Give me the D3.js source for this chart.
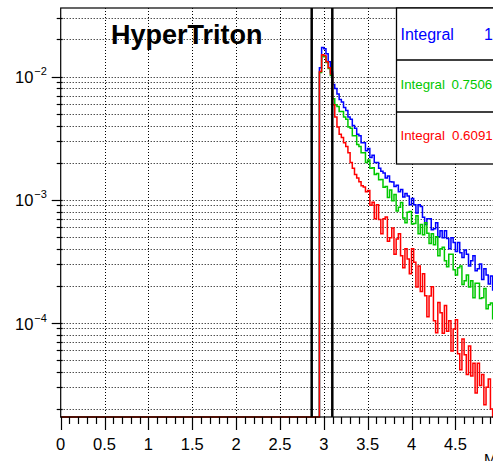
<!DOCTYPE html>
<html>
<head>
<meta charset="utf-8">
<script src="https://cdn.jsdelivr.net/npm/d3@7"></script>
<style>
  body { margin: 0; background: #fff; }
  svg { display: block; font-family: "Liberation Sans", Arial, sans-serif; }
</style>
</head>
<body>
<script>
// Canvas and frame
const w = 493;
const h = 461;
const frame = { left: 60.7, right: 499.2, top: 8, bottom: 417 };

// Histogram binning (bins start where the signal turns on)
const binLow = 2.95;
const binWidth = 0.025;

// Bin contents
const blue = [
  0.0118, 0.0172, 0.0168, 0.0153, 0.0132, 0.0109, 0.0086, 0.0080,
  0.0072, 0.0065, 0.0062, 0.0056, 0.0053, 0.0047, 0.0045, 0.0040,
  0.0038, 0.0034, 0.0033, 0.0029, 0.0029, 0.0025, 0.0026, 0.0022,
  0.0023, 0.0020, 0.0020, 0.0018, 0.0017, 0.00165, 0.00150, 0.00156,
  0.00140, 0.00139, 0.00128, 0.00131, 0.00116, 0.00121, 0.00105, 0.00112,
  0.00107, 0.00091, 0.00102, 0.00091, 0.00078, 0.00091, 0.00088, 0.00072,
  0.00063, 0.00070, 0.00070, 0.00057, 0.00058, 0.00065, 0.00050, 0.00056,
  0.00049, 0.00056, 0.000485, 0.00040, 0.00049, 0.00045, 0.00038, 0.00045,
  0.00037, 0.00034, 0.00039, 0.00036, 0.00029, 0.00032, 0.00035, 0.000265,
  0.000275, 0.00030, 0.000225, 0.000275, 0.000245, 0.000207, 0.00024, 0.000185,
  0.000195, 0.00020
];
const green = [
  0.0108, 0.0147, 0.0145, 0.0130, 0.0116, 0.0102, 0.0066, 0.0059,
  0.0057, 0.0052, 0.0052, 0.0047, 0.0045, 0.0039, 0.0038, 0.0033,
  0.0033, 0.0028, 0.0027, 0.0024, 0.0024, 0.0020, 0.0021, 0.0018,
  0.00182, 0.00160, 0.00163, 0.00145, 0.00146, 0.00126, 0.00128, 0.00104,
  0.00120, 0.00098, 0.00110, 0.00081, 0.00087, 0.00095, 0.00071, 0.00065,
  0.00079, 0.00080, 0.000635, 0.00064, 0.00074, 0.00053, 0.00063, 0.00052,
  0.00065, 0.000535, 0.00044, 0.00053, 0.00043, 0.00050, 0.00035, 0.00040,
  0.00041, 0.00032, 0.000285, 0.00036, 0.00036, 0.00027, 0.000245, 0.00028,
  0.00029, 0.000205, 0.00022, 0.000245, 0.000195, 0.00022, 0.00016, 0.00021,
  0.00021, 0.000158, 0.00016, 0.00019, 0.00013, 0.00014, 0.000145, 0.000108,
  0.000126, 0.00011
];
const red = [
  0.0110, 0.0150, 0.0148, 0.0132, 0.0118, 0.0105, 0.0059, 0.0047,
  0.0039, 0.0034, 0.0032, 0.0029, 0.0027, 0.0024, 0.0020, 0.0018,
  0.0016, 0.0015, 0.0014, 0.0013, 0.00127, 0.00116, 0.00119, 0.00090,
  0.000955, 0.00070, 0.00091, 0.00069, 0.00053, 0.00070, 0.000725, 0.00046,
  0.00049, 0.00059, 0.00036, 0.00048, 0.00053, 0.00035, 0.00028, 0.00040,
  0.00033, 0.00025, 0.00040, 0.00031, 0.000195, 0.00029, 0.00018, 0.00025,
  0.000166, 0.000112, 0.000165, 0.000196, 0.000104, 0.000083, 0.000146, 0.000121,
  0.0000825, 0.000138, 0.0000855, 0.000104, 0.000059, 0.000089, 0.000106, 0.000056,
  0.0000416, 0.000074, 0.000055, 0.000038, 0.000065, 0.000037, 0.000047, 0.000027,
  0.000047, 0.000031, 0.000038, 0.0000216, 0.000030, 0.000035, 0.000020, 0.000014,
  0.000025, 0.000018
];

// Legend entries
const legendLabels = ["Integral", "Integral", "Integral"];
const legendValues = ["1", "0.7506", "0.6091"];
const seriesColors = ["#0000ff", "#00c800", "#ff0000"];

// Axis ticks (5 sits on the frame edge, outside the window, so unlabelled)
const xTicks = [0, 0.5, 1, 1.5, 2, 2.5, 3, 3.5, 4, 4.5];
const yDecades = [-2, -3, -4];

// Selection window lines
const cutLines = [2.862, 3.097];

const x = d3.scaleLinear().domain([0, 5]).range([frame.left, frame.right]);
const y = d3.scaleLog().domain([1.72e-5, 0.036]).range([frame.bottom, frame.top]);

const svg = d3.select("body").append("svg").attr("width", w).attr("height", h);

// Grid: dotted at every log tick and every labelled x tick
const yGrid = [];
for (let e = -5; e <= -2; e++) {
  for (let m = 1; m <= 9; m++) {
    const v = m * Math.pow(10, e);
    if (v >= y.domain()[0] && v <= y.domain()[1]) yGrid.push({ v: v, major: m === 1 });
  }
}

svg.selectAll("line.ygrid")
  .data(yGrid)
  .enter()
  .append("line")
  .attr("x1", frame.left)
  .attr("x2", frame.right)
  .attr("y1", d => Math.round(y(d.v)) + 0.5)
  .attr("y2", d => Math.round(y(d.v)) + 0.5)
  .attr("stroke", "#000")
  .attr("stroke-width", 1)
  .attr("stroke-dasharray", "1,2");

svg.selectAll("line.xgrid")
  .data(xTicks.filter(d => d > 0))
  .enter()
  .append("line")
  .attr("x1", d => Math.round(x(d)) + 0.5)
  .attr("x2", d => Math.round(x(d)) + 0.5)
  .attr("y1", frame.top)
  .attr("y2", frame.bottom)
  .attr("stroke", "#000")
  .attr("stroke-width", 1)
  .attr("stroke-dasharray", "1,2");

// Histogram outlines: empty bins sit on the frame bottom
function histPoints(vals) {
  const lo = y.domain()[0];
  const pts = [[0, lo], [binLow, lo]];
  vals.forEach(function (v, i) {
    const a = binLow + i * binWidth;
    const vv = Math.max(v, lo);
    pts.push([a, vv]);
    pts.push([a + binWidth, vv]);
  });
  return pts;
}

const line = d3.line().x(d => x(d[0])).y(d => y(d[1]));

[blue, green, red].forEach(function (s, i) {
  svg.append("path")
    .attr("d", line(histPoints(s)))
    .attr("fill", "none")
    .attr("stroke", seriesColors[i])
    .attr("stroke-width", 1.5);
});

// Vertical cut lines
svg.selectAll("line.cut")
  .data(cutLines)
  .enter()
  .append("line")
  .attr("x1", d => x(d))
  .attr("x2", d => x(d))
  .attr("y1", frame.top)
  .attr("y2", frame.bottom)
  .attr("stroke", "#000")
  .attr("stroke-width", 2.5);

// Frame
svg.append("rect")
  .attr("x", frame.left)
  .attr("y", frame.top)
  .attr("width", frame.right - frame.left)
  .attr("height", frame.bottom - frame.top)
  .attr("fill", "none")
  .attr("stroke", "#000")
  .attr("stroke-width", 1.2);

// Y ticks
svg.selectAll("line.ytick")
  .data(yGrid)
  .enter()
  .append("line")
  .attr("x1", d => frame.left - (d.major ? 9 : 4))
  .attr("x2", frame.left + 2)
  .attr("y1", d => Math.round(y(d.v)) + 0.5)
  .attr("y2", d => Math.round(y(d.v)) + 0.5)
  .attr("stroke", "#000")
  .attr("stroke-width", 1.2);

const yLab = svg.selectAll("text.ylab")
  .data(yDecades)
  .enter()
  .append("text")
  .attr("x", 15)
  .attr("y", d => y(Math.pow(10, d)) + 6.8)
  .attr("font-size", 16.5)
  .attr("fill", "#000");
yLab.append("tspan").text("10");
yLab.append("tspan")
  .attr("dy", -8)
  .attr("dx", 1)
  .attr("font-size", 11)
  .text(d => "\u2212" + (-d));

// X ticks: major every 0.5, minor every 0.1
const xMinor = d3.range(0, 51).map(i => i / 10);
svg.selectAll("line.xtick")
  .data(xMinor)
  .enter()
  .append("line")
  .attr("x1", d => Math.round(x(d)) + 0.5)
  .attr("x2", d => Math.round(x(d)) + 0.5)
  .attr("y1", frame.bottom)
  .attr("y2", (d, i) => frame.bottom + (i % 5 === 0 ? 13 : 7))
  .attr("stroke", "#000")
  .attr("stroke-width", 1.2);

svg.selectAll("text.xlab")
  .data(xTicks)
  .enter()
  .append("text")
  .attr("x", d => x(d))
  .attr("y", 449.5)
  .attr("text-anchor", "middle")
  .attr("font-size", 16.5)
  .text(d => d);

// Axis title, mostly outside the window
svg.append("text")
  .attr("x", 484)
  .attr("y", 464)
  .attr("font-size", 15)
  .text("M");

// Title
svg.append("text")
  .attr("x", 111)
  .attr("y", 43.5)
  .attr("font-size", 27)
  .attr("font-weight", "bold")
  .text("HyperTriton");

// Legend box with three rows
const legX = 396.5;
const rowH = 52;
svg.append("rect")
  .attr("x", legX)
  .attr("y", frame.top)
  .attr("width", 130)
  .attr("height", rowH * 3)
  .attr("fill", "#fff")
  .attr("stroke", "#000")
  .attr("stroke-width", 1.3);

svg.selectAll("line.legsep")
  .data([1, 2])
  .enter()
  .append("line")
  .attr("x1", legX)
  .attr("x2", w + 10)
  .attr("y1", d => frame.top + d * rowH)
  .attr("y2", d => frame.top + d * rowH)
  .attr("stroke", "#000")
  .attr("stroke-width", 1.3);

const legSizes = [16, 13.3, 13.3];
const legBase = [40, 89, 140];
const legValX = [484, 451.5, 452];

legendLabels.forEach(function (t, i) {
  svg.append("text")
    .attr("x", 400.5)
    .attr("y", legBase[i])
    .attr("font-size", legSizes[i])
    .attr("fill", seriesColors[i])
    .text(t);
  svg.append("text")
    .attr("x", legValX[i])
    .attr("y", legBase[i])
    .attr("font-size", legSizes[i])
    .attr("fill", seriesColors[i])
    .text(legendValues[i]);
});
</script>
</body>
</html>
